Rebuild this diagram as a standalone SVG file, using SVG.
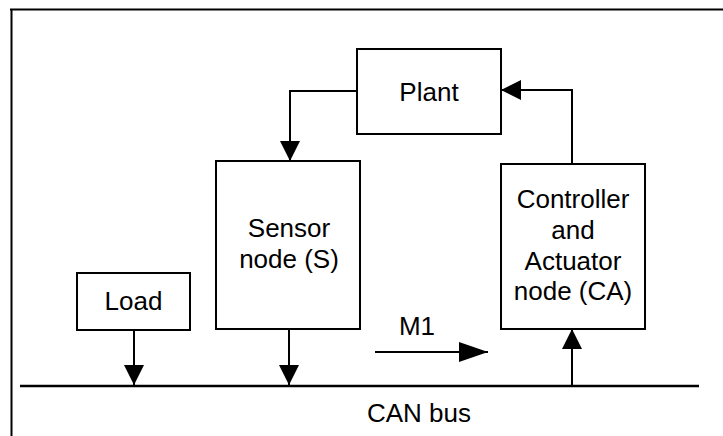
<svg xmlns="http://www.w3.org/2000/svg" width="723" height="436" viewBox="0 0 723 436">
<style>
.box{fill:#fff;stroke:#000;stroke-width:2}
.ln{fill:none;stroke:#000;stroke-width:2}
text{font-family:"Liberation Sans",Arial,sans-serif;font-size:26px;fill:#000;text-anchor:middle}
</style>
<defs>
<marker id="arr" viewBox="0 0 20 20" refX="20" refY="10" markerWidth="20" markerHeight="20" markerUnits="userSpaceOnUse" orient="auto">
<path d="M0,0 L20,10 L0,20 Z" fill="#000"/>
</marker>
<marker id="arrM" viewBox="0 0 29 20" refX="29" refY="10" markerWidth="29" markerHeight="20" markerUnits="userSpaceOnUse" orient="auto">
<path d="M0,0 L29,10 L0,20 Z" fill="#000"/>
</marker>
</defs>
<rect width="723" height="436" fill="#fff"/>
<g id="frame">
<path class="ln" d="M10,9.5 H723 M11.5,9 V436"/>
</g>
<g id="bus">
<path d="M20,386 H699" stroke="#000" stroke-width="2.5" fill="none"/>
<text x="419" y="422">CAN bus</text>
</g>
<g id="connectors">
<path class="ln" d="M357,91 H290 V161" marker-end="url(#arr)"/>
<path class="ln" d="M572,164 V90 H501" marker-end="url(#arr)"/>
<path class="ln" d="M134,330 V385" marker-end="url(#arr)"/>
<path class="ln" d="M289,329 V385" marker-end="url(#arr)"/>
<path class="ln" d="M572,386 V329" marker-end="url(#arr)"/>
<path class="ln" d="M375,352 H488" marker-end="url(#arrM)"/>
<text x="417" y="335">M1</text>
</g>
<g id="plant">
<rect class="box" x="357" y="49" width="144" height="85"/>
<text x="429" y="101">Plant</text>
</g>
<g id="sensor">
<rect class="box" x="216" y="161" width="144" height="168"/>
<text x="289" y="237">Sensor</text>
<text x="289" y="268">node (S)</text>
</g>
<g id="controller">
<rect class="box" x="501" y="164" width="144" height="165"/>
<text x="573" y="208">Controller</text>
<text x="573" y="239">and</text>
<text x="573" y="270">Actuator</text>
<text x="573" y="300">node (CA)</text>
</g>
<g id="load">
<rect class="box" x="77" y="273" width="113" height="57"/>
<text x="133.5" y="310">Load</text>
</g>
</svg>
